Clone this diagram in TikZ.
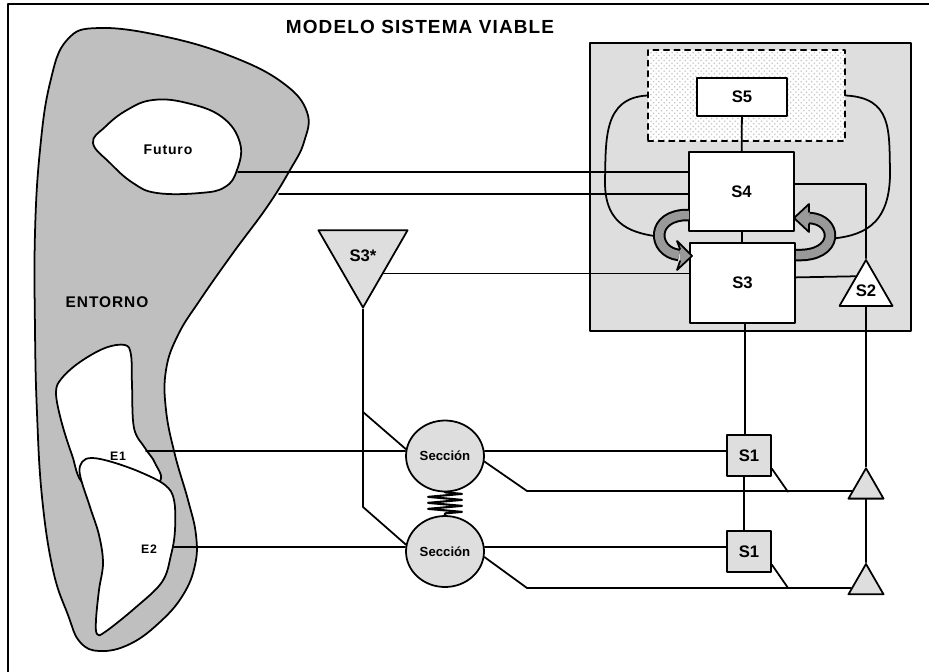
\documentclass[tikz,border=0pt]{standalone}
\usepackage{fontspec}
\setmainfont{Liberation Sans}
\newfontfamily\spacedfont[LetterSpace=6]{Liberation Sans}
\usetikzlibrary{shapes.geometric, patterns, decorations.pathmorphing}
\definecolor{envgray}{gray}{0.75}
\definecolor{boxgray}{gray}{0.87}
\definecolor{bandgray}{gray}{0.6}

\begin{document}
\begin{tikzpicture}[x=0.02cm, y=-0.02cm, line width=1pt, line cap=round, line join=round,
    sys/.style={draw, line width=1pt, fill=white, inner sep=0pt, font=\fontsize{9.5}{11}\selectfont\bfseries},
    opbox/.style={draw, line width=1pt, fill=boxgray, inner sep=0pt, minimum width=0.88cm, minimum height=0.82cm,
      font=\fontsize{9.5}{11}\selectfont\bfseries},
    section/.style={ellipse, draw, line width=1pt, fill=boxgray, inner sep=0pt, minimum width=1.56cm,
      minimum height=1.42cm, font=\fontsize{7.5}{9}\selectfont\bfseries},
    tri/.style={regular polygon, regular polygon sides=3, draw, line width=1pt, inner sep=0pt,
      font=\fontsize{9.5}{11}\selectfont\bfseries},
    band/.style={line width=0.25cm, line cap=butt},
    bandfill/.style={line width=0.17cm, line cap=butt, bandgray}]
    \useasboundingbox (0,0) rectangle (929,672);
    \draw (8,672) -- (8,4) -- (929,4);
    \node[font=\spacedfont\fontsize{10.8}{13}\selectfont\bfseries] (title) at (420,27) {MODELO SISTEMA VIABLE};

    \filldraw[fill=envgray] plot[smooth cycle, tension=0.7] coordinates {(100,28) (167,37) (233,57) (283,83)
      (307,112) (304,142) (290,170) (267,207) (233,253) (200,300) (178,335) (166,370) (166,410) (175,455)
      (188,500) (196,535) (195,565) (183,595) (160,622) (130,644) (100,651) (80,642) (68,615) (53,570)
      (42,497) (37,413) (35,330) (35,233) (40,150) (50,83) (67,40)};
    \filldraw[fill=white] plot[smooth cycle, tension=0.7] coordinates {(93,143) (105,127) (127,110) (153,100)
      (187,103) (222,117) (240,143) (237,170) (225,187) (200,193) (157,193) (133,183) (110,163)};
    \filldraw[fill=white] plot[smooth cycle, tension=0.6] coordinates {(125,345) (131,355) (132,385) (134,428)
      (145,448) (155,463) (159,482) (120,494) (84,484) (72,455) (61,420) (56,392) (62,378) (80,362) (105,348)};
    \filldraw[fill=white] plot[smooth cycle, tension=0.6] coordinates {(82,462) (92,458) (112,462) (140,472)
      (165,485) (174,500) (175,530) (171,555) (162,582) (135,608) (105,632) (97,634) (96,620) (99,590)
      (103,563) (99,535) (90,507) (80,475)};
    \node[font=\spacedfont\fontsize{8}{10}\selectfont\bfseries] (futuro) at (168,150) {Futuro};
    \node[font=\spacedfont\fontsize{8.8}{10}\selectfont\bfseries] (entorno) at (107,302) {ENTORNO};
    \node[font=\spacedfont\fontsize{7}{9}\selectfont\bfseries] (E1) at (118,456) {E1};
    \node[font=\spacedfont\fontsize{7}{9}\selectfont\bfseries] (E2) at (149,549) {E2};
    \coordinate (fut) at (238,172);
    \coordinate (env) at (279,194);
    \coordinate (e1) at (146,451);
    \coordinate (e2) at (173,547);

    \node[draw, line width=1pt, fill=boxgray, minimum width=6.42cm, minimum height=5.76cm] (panel) at (750.5,187) {};
    \node[draw, line width=1pt, dashed, preaction={fill=white}, pattern=crosshatch dots, pattern color=black!22,
      minimum width=3.94cm, minimum height=1.82cm] (zone) at (746.5,95.5) {};
    \draw (zone.west) .. controls (603,98) and (606,140) .. (605,180) .. controls (604,228) and (635,233) .. (660,237);
    \draw (zone.east) .. controls (892,98) and (889,130) .. (890,170) .. controls (891,228) and (860,236) .. (829,239);

    \node[sys, minimum width=1.8cm, minimum height=0.76cm] (S5) at (742,97) {S5};
    \node[sys, minimum width=2.1cm, minimum height=1.58cm] (S4) at (741.5,191.5) {S4};
    \node[sys, minimum width=2.1cm, minimum height=1.6cm] (S3) at (742.5,283) {S3};
    \node[tri, fill=white, minimum size=1.224cm] (S2) at (866,290.6) {S2};
    \node[tri, fill=boxgray, regular polygon rotate=180, minimum size=2.06cm] (S3s) at (363,256) {S3*};
    \node[section] (sec1) at (445,456) {Sección};
    \node[section] (sec2) at (445,551.5) {Sección};
    \node[opbox] (S1a) at (749,455.5) {S1};
    \node[opbox] (S1b) at (749,551.5) {S1};
    \node[tri, fill=boxgray, minimum size=0.81cm] (T1) at (866,488.5) {};
    \node[tri, fill=boxgray, minimum size=0.81cm] (T2) at (866,584.2) {};

    \draw[band] (689,215) .. controls (650,214) and (652,252) .. (679,255);
    \draw[bandfill] (689,215) .. controls (650,214) and (652,252) .. (679,255);
    \filldraw[fill=bandgray] (680,249) -- (677,241) -- (692,256) -- (677,270) -- (680,261);
    \draw[band] (796,255) .. controls (840,257) and (838,219) .. (809,218);
    \draw[bandfill] (796,255) .. controls (840,257) and (838,219) .. (809,218);
    \filldraw[fill=bandgray] (809,212) -- (809,204) -- (794,218) -- (809,232) -- (809,224);

    \draw (S5) -- (S4);
    \draw (S4) -- (S3);
    \draw (fut) -- (fut -| S4.west);
    \draw (env) -- (env -| S4.west);
    \draw (S4.8) -| (S2.north);
    \draw (S3.6.5) -- (S2.126);
    \draw (S3s.-40) -- (S3s.-40 -| S3.west);
    \draw ([xshift=-0.08cm]S1a.north) -- ([xshift=-0.08cm]S1a.north |- S3.south);
    \draw ([xshift=-0.1cm]S1a.south) -- ([xshift=-0.1cm]S1b.north);
    \draw (S2.south) -- (T1.north);
    \draw (T1.south) -- (T2.north);

    \coordinate (va) at (363,412);
    \coordinate (vb) at (363,507);
    \draw (S3s.corner 1) -- (vb) -- (sec2.170);
    \draw (va) -- (sec1.170);
    \draw (e1) -- (e1 -| sec1.west);
    \draw (e1 -| sec1.east) -- (e1 -| S1a.west);
    \draw (e2) -- (e2 -| sec2.west);
    \draw (e2 -| sec2.east) -- (e2 -| S1b.west);
    \draw[line width=1.2pt, decorate, decoration={zigzag, amplitude=0.34cm, segment length=0.12cm}]
      (sec1.south) -- (sec2.north);

    \coordinate (k1) at (527,491);
    \coordinate (k2) at (527,588);
    \draw (sec1.-8) -- (k1) -- (k1 -| T1.190);
    \draw (sec2.-8) -- (k2) -- (k2 -| T2.195);
    \draw (S1a.-30) -- ++(16,23);
    \draw (S1b.-30) -- ++(16,23);
\end{tikzpicture}
\end{document}
